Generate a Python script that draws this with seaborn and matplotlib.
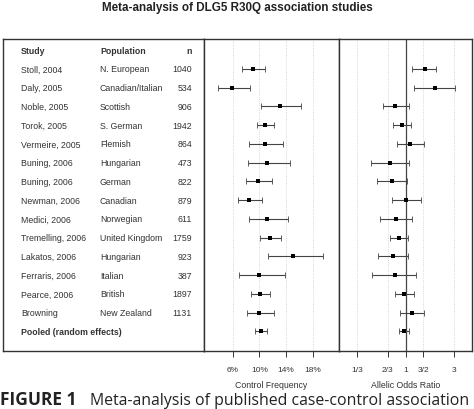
import numpy as np
import pandas as pd
import matplotlib
matplotlib.use('Agg')
import matplotlib.pyplot as plt
import seaborn as sns

# table columns
studies = ['Stoll, 2004', 'Daly, 2005', 'Noble, 2005', 'Torok, 2005', 'Vermeire, 2005',
           'Buning, 2006', 'Buning, 2006', 'Newman, 2006', 'Medici, 2006', 'Tremelling, 2006',
           'Lakatos, 2006', 'Ferraris, 2006', 'Pearce, 2006', 'Browning', 'Pooled (random effects)']
populations = ['N. European', 'Canadian/Italian', 'Scottish', 'S. German', 'Flemish',
               'Hungarian', 'German', 'Canadian', 'Norwegian', 'United Kingdom',
               'Hungarian', 'Italian', 'British', 'New Zealand', '']
sizes = ['1040', '534', '906', '1942', '864', '473', '822', '879', '611', '1759',
         '923', '387', '1897', '1131', '']

# control frequency (%) with 95% CI
freq = [9.0, 5.85, 13.1, 10.8, 10.8, 11.2, 9.85, 8.5, 11.1, 11.6, 15.0, 9.95, 10.1, 9.95, 10.2]
freq_lo = [7.35, 3.85, 10.25, 9.6, 8.5, 8.35, 8.0, 6.85, 8.5, 10.1, 11.25, 7.0, 8.7, 8.1, 9.35]
freq_hi = [10.8, 8.6, 16.2, 12.2, 13.5, 14.6, 11.85, 10.35, 14.25, 13.2, 19.5, 13.75, 11.6, 12.2, 11.1]

# allelic odds ratio with 95% CI
odds = [1.54, 1.93, 0.79, 0.92, 1.11, 0.71, 0.74, 1.02, 0.81, 0.855, 0.75, 0.78, 0.97, 1.16, 0.97]
odds_lo = [1.17, 1.20, 0.60, 0.76, 0.83, 0.46, 0.52, 0.74, 0.56, 0.71, 0.54, 0.47, 0.79, 0.89, 0.855]
odds_hi = [2.01, 3.09, 1.09, 1.13, 1.51, 1.09, 1.03, 1.42, 1.16, 1.05, 1.06, 1.27, 1.20, 1.52, 1.09]

freq_ticks = [6, 10, 14, 18]
freq_labels = ['6%', '10%', '14%', '18%']
odds_ticks = [1 / 3, 2 / 3, 1, 3 / 2, 3]
odds_labels = ['1/3', '2/3', '1', '3/2', '3']

df = pd.DataFrame({'study': studies, 'pop': populations, 'n': sizes,
                   'freq': freq, 'freq_lo': freq_lo, 'freq_hi': freq_hi,
                   'odds': odds, 'odds_lo': odds_lo, 'odds_hi': odds_hi})
df['row'] = np.arange(len(df))

sns.set_theme(style='white')
plt.rcParams['font.family'] = ['Liberation Sans', 'DejaVu Sans']

W, H = 474, 410
fig = plt.figure(figsize=(W / 100, H / 100), dpi=100)
top, bottom = 40, 352
ylims = (15.05, -1.6)
txt_col = '#333333'
edge = '#333333'


def make_ax(x0, x1):
    ax = fig.add_axes([x0 / W, (H - bottom) / H, (x1 - x0) / W, (bottom - top) / H])
    ax.set_ylim(*ylims)
    ax.set_yticks([])
    for s in ax.spines.values():
        s.set_color(edge)
        s.set_linewidth(1.0)
    return ax


# table panel
ax_t = make_ax(3, 204)
ax_t.set_xlim(0, 201)
ax_t.set_xticks([])
fs = 6.3
ax_t.text(18, -1, 'Study', fontsize=fs, fontweight='bold', color=txt_col, va='center')
ax_t.text(97, -1, 'Population', fontsize=fs, fontweight='bold', color=txt_col, va='center')
ax_t.text(189, -1, 'n', fontsize=fs, fontweight='bold', color=txt_col, va='center', ha='right')
for _, r in df.iterrows():
    bold = r['study'].startswith('Pooled')
    ax_t.text(18, r['row'], r['study'], fontsize=fs, color=txt_col, va='center',
              fontweight='bold' if bold else 'normal')
    ax_t.text(97, r['row'], r['pop'], fontsize=fs, color=txt_col, va='center')
    ax_t.text(189, r['row'], r['n'], fontsize=fs, color=txt_col, va='center', ha='right')


def forest(ax, col, lo, hi):
    ax.errorbar(df[col], df['row'], xerr=[df[col] - df[lo], df[hi] - df[col]],
                fmt='none', ecolor='#444444', elinewidth=0.8, capsize=2, capthick=0.6, zorder=2)
    sns.scatterplot(data=df, x=col, y='row', ax=ax, color='black', marker='s', s=8,
                    linewidth=0, legend=False, zorder=3)
    ax.set_ylim(*ylims)
    ax.set_ylabel('')
    ax.tick_params(axis='x', bottom=True, length=4, width=0.7, color=edge,
                   labelsize=6, labelcolor=txt_col, pad=7)


# control frequency panel
ax_f = make_ax(204, 339)
for t in freq_ticks:
    ax_f.axvline(t, color='#c8c8c8', lw=0.6, ls=':', zorder=1)
forest(ax_f, 'freq', 'freq_lo', 'freq_hi')
ax_f.set_xlim(1.7, 21.9)
ax_f.set_xticks(freq_ticks)
ax_f.set_xticklabels(freq_labels)
ax_f.set_xlabel('Control Frequency', fontsize=6.3, color=txt_col, labelpad=5)

# odds ratio panel
ax_o = make_ax(339, 472)
ax_o.set_xscale('log')
for t in odds_ticks:
    if t != 1:
        ax_o.axvline(t, color='#c8c8c8', lw=0.6, ls=':', zorder=1)
ax_o.axvline(1, color='#444444', lw=0.9, zorder=1)
forest(ax_o, 'odds', 'odds_lo', 'odds_hi')
ax_o.set_xlim(0.222, 4.5)
ax_o.set_xticks(odds_ticks)
ax_o.set_xticklabels(odds_labels)
ax_o.minorticks_off()
ax_o.set_xlabel('Allelic Odds Ratio', fontsize=6.3, color=txt_col, labelpad=5)

fig.text(0.5, 1 - 8 / H, 'Meta-analysis of DLG5 R30Q association studies',
         ha='center', va='center', fontsize=8.4, fontweight='bold', color='#222222')

# figure caption along the bottom edge
fig.text(0 / W, 4.5 / H, 'FIGURE 1', fontsize=12.5, fontweight='bold', family='Open Sans',
         va='baseline', color='#222222')
fig.text(90 / W, 4.5 / H, 'Meta-analysis of published case-control association', fontsize=11.4,
         family='Open Sans', va='baseline', color='#222222')

fig.savefig('out.png', dpi=100, facecolor='white')
